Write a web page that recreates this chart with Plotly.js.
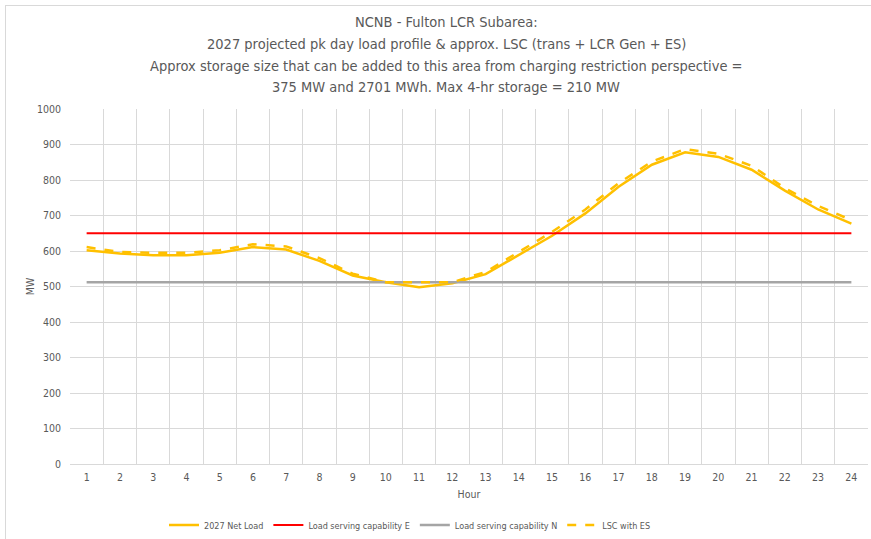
<!DOCTYPE html>
<html>
<head>
<meta charset="utf-8">
<script src="https://cdn.plot.ly/plotly-3.0.1.min.js"></script>
<style>
html,body{margin:0;padding:0;background:#fff;}
#frame{position:absolute;left:5px;top:5px;width:880px;height:550px;border:1px solid #d9d9d9;}
#chart{position:absolute;left:0;top:0;width:871px;height:539px;}
</style>
</head>
<body>
<div id="frame"></div>
<div id="chart"></div>
<script>
const hours = ["1","2","3","4","5","6","7","8","9","10","11","12","13","14","15","16","17","18","19","20","21","22","23","24"];
const netLoad = [602,593,588,588,595,611,604,572,531,512,498,509,535,588,643,706,781,843,878,865,829,770,717,677];
const lscE = [650,650,650,650,650,650,650,650,650,650,650,650,650,650,650,650,650,650,650,650,650,650,650,650];
const lscN = [512,512,512,512,512,512,512,512,512,512,512,512,512,512,512,512,512,512,512,512,512,512,512,512];
const lscWithES = [611,597,595,595,602,619,613,580,536,512,512,512,541,597,654,717,791,852,887,874,840,777,727,687];
const titleLines = [
  'NCNB - Fulton LCR Subarea:',
  '2027 projected pk day load profile & approx. LSC (trans + LCR Gen + ES)',
  'Approx storage size that can be added to this area from charging restriction perspective =',
  '375 MW and 2701 MWh. Max 4-hr storage = 210 MW'
];

const FONT = '"DejaVu Sans Condensed", "Liberation Sans Narrow", "Liberation Sans", sans-serif';
const traces = [
  {x: hours, y: netLoad, name: '2027 Net Load', type: 'scatter', mode: 'lines',
   line: {color: '#FFC000', width: 2.5}},
  {x: hours, y: lscE, name: 'Load serving capability E', type: 'scatter', mode: 'lines',
   line: {color: '#FF0000', width: 2}},
  {x: hours, y: lscN, name: 'Load serving capability N', type: 'scatter', mode: 'lines',
   line: {color: '#A5A5A5', width: 2.5}},
  {x: hours, y: lscWithES, name: 'LSC with ES', type: 'scatter', mode: 'lines',
   line: {color: '#FFC000', width: 2.5, dash: 'dash'}}
];

const titleY = [22, 44, 66, 87];
const annotations = titleLines.map((t, i) => ({
  text: t, showarrow: false, xref: 'paper', yref: 'paper',
  x: (446 - 70) / 798, xanchor: 'center',
  y: 1 + (109 - titleY[i]) / 355, yanchor: 'middle',
  font: {family: FONT, size: 14.5, color: '#595959'}
}));

const layout = {
  width: 871, height: 539,
  margin: {l: 70, r: 3, t: 109, b: 75, autoexpand: false},
  paper_bgcolor: 'rgba(0,0,0,0)', plot_bgcolor: '#fff',
  font: {family: FONT, color: '#595959', size: 10.5},
  annotations: annotations,
  xaxis: {
    type: 'category', tickson: 'boundaries', range: [-0.5, 23.5],
    showgrid: true, gridcolor: '#d9d9d9', gridwidth: 1,
    showline: true, linecolor: '#d9d9d9', linewidth: 1,
    ticks: '', tickfont: {size: 10.5, color: '#595959'}, ticklabelstandoff: 3,
    title: {text: 'Hour', font: {size: 10.5, color: '#595959'}, standoff: 9},
    zeroline: false, automargin: false
  },
  yaxis: {
    range: [0, 1000], dtick: 100, tick0: 0,
    showgrid: true, gridcolor: '#d9d9d9', gridwidth: 1,
    showline: false, zeroline: false, ticks: '',
    tickfont: {size: 10.5, color: '#595959'}, ticklabelstandoff: 8,
    title: {text: 'MW', font: {size: 10.5, color: '#595959'}, standoff: 0},
    automargin: false
  },
  legend: {
    orientation: 'h', x: 410 / 871, xref: 'container', xanchor: 'center',
    y: 0.026, yref: 'container', yanchor: 'middle',
    font: {size: 9, color: '#595959'}, itemwidth: 30, tracegroupgap: 0
  },
  showlegend: true
};

Plotly.newPlot('chart', traces, layout, {displayModeBar: false, staticPlot: true});
</script>
</body>
</html>
